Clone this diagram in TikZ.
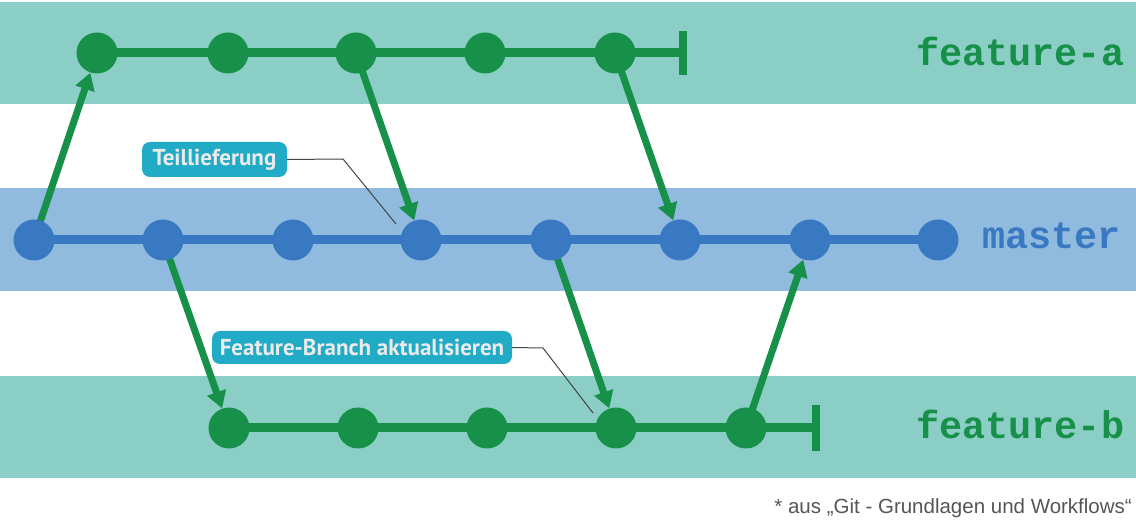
\documentclass[tikz,border=0pt]{standalone}
\usepackage{fontspec}
\setmainfont{Liberation Sans}
\newfontfamily\labelfont{PT Sans}
\newfontfamily\branchfont{Liberation Mono}
\usetikzlibrary{arrows.meta}
\definecolor{bandteal}{HTML}{8BCEC5}
\definecolor{bandblue}{HTML}{91BADF}
\definecolor{gitgreen}{HTML}{17904A}
\definecolor{gitblue}{HTML}{3879C2}
\definecolor{boxcol}{HTML}{21ABC7}
\definecolor{boxtext}{HTML}{EBEBEB}
\definecolor{leader}{HTML}{444444}
\definecolor{foot}{HTML}{555555}
\pgfdeclarelayer{bands}
\pgfdeclarelayer{lines}
\pgfsetlayers{bands,lines,main}
\tikzset{
  commitg/.style={circle,fill=gitgreen,minimum size=41pt,inner sep=0pt},
  commitb/.style={circle,fill=gitblue,minimum size=41pt,inner sep=0pt},
  glinestyle/.style={draw=gitgreen,line width=9pt},
  blinestyle/.style={draw=gitblue,line width=9pt},
  mergearrow/.style={draw=gitgreen,line width=7pt,-{Triangle[length=17pt,width=19pt]}},
  tagbox/.style={fill=boxcol,rounded corners=8pt,text=boxtext,inner sep=0pt,
    font=\labelfont\bfseries\fontsize{23}{26}\selectfont},
  leaderline/.style={draw=leader,line width=1pt},
  branchlabel/.style={anchor=base west,inner sep=0pt,font=\branchfont\bfseries\fontsize{38.5}{40}\selectfont}
}
\begin{document}
\begin{tikzpicture}[x=1pt,y=-1pt]
\useasboundingbox (0,0) rectangle (1136,526);
\begin{pgfonlayer}{bands}
  \fill[bandteal] (0,2) rectangle (1136,104);
  \fill[bandblue] (0,188) rectangle (1136,291);
  \fill[bandteal] (0,376) rectangle (1136,478);
\end{pgfonlayer}
% feature-a
\foreach \x [count=\i from 0] in {97,228,356,485,615}
  \node[commitg] (a\i) at (\x,53) {};
\coordinate (aend) at (683,53);
% master
\foreach \x [count=\i from 0] in {34,163,293,421,551,680,810,938}
  \node[commitb] (m\i) at (\x,240) {};
% feature-b
\foreach \x [count=\i from 0] in {229,358,487,616,746}
  \node[commitg] (b\i) at (\x,428) {};
\coordinate (bend) at (816,428);
% labels
\node[tagbox,minimum width=145pt,minimum height=35pt] (t1) at (214.5,159.5) {Teillieferung};
\node[tagbox,minimum width=300pt,minimum height=33pt] (t2) at (362,347.5) {Feature-Branch aktualisieren};
\coordinate (t1k) at (343,159);
\coordinate (t1e) at (396,224);
\coordinate (t2k) at (543,348);
\coordinate (t2e) at (593,413);
\begin{pgfonlayer}{lines}
  \path[glinestyle] (a0.center) -- (aend);
  \path[glinestyle,line width=8pt] ([yshift=22pt]aend) -- ([yshift=-22pt]aend);
  \path[blinestyle] (m0.center) -- (m7.center);
  \path[glinestyle] (b0.center) -- (bend);
  \path[glinestyle,line width=8pt] ([yshift=23pt]bend) -- ([yshift=-23pt]bend);
  \path[mergearrow] (m0.center) -- (a0);
  \path[mergearrow] (a2.center) -- (m3);
  \path[mergearrow] (a4.center) -- (m5);
  \path[mergearrow] (m1.center) -- (b0);
  \path[mergearrow] (m4.center) -- (b3);
  \path[mergearrow] (b4.center) -- (m6);
  \path[leaderline] (t1.east) -- (t1k) -- (t1e);
  \path[leaderline] (t2.east) -- (t2k) -- (t2e);
\end{pgfonlayer}
\node[branchlabel,text=gitgreen] (la) at (916,66) {feature-a};
\node[branchlabel,text=gitblue] (lm) at (982,249) {master};
\node[branchlabel,text=gitgreen] (lb) at (916,439) {feature-b};
\node[anchor=base east,inner sep=0pt,text=foot,font=\fontsize{20.5}{22}\selectfont] (fn) at (1132,514) {* aus „Git - Grundlagen und Workflows“};
\end{tikzpicture}
\end{document}
